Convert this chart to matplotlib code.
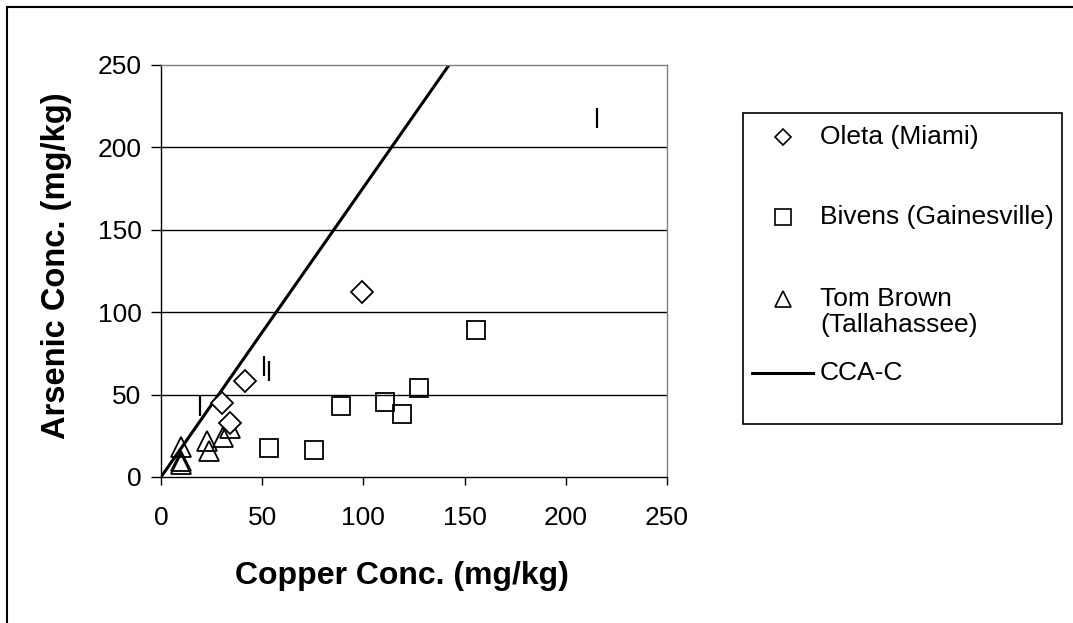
import matplotlib
matplotlib.use('Agg')
import matplotlib.pyplot as plt
from matplotlib.lines import Line2D
from matplotlib.patches import Rectangle

plt.rcParams['font.family'] = ['Liberation Sans', 'DejaVu Sans']

# Oleta (Miami)
oleta_cu = [30, 34, 41.5, 99.5]
oleta_as = [45, 33, 58, 112]
# Bivens (Gainesville)
bivens_cu = [53.4, 75.6, 88.8, 110.7, 119, 127.3, 155.6]
bivens_as = [17.6, 16.4, 43.3, 45.7, 38.4, 53.8, 89.2]
# Tom Brown (Tallahassee)
tom_cu = [10, 10, 10, 22.5, 23.5, 30.5, 34]
tom_as = [8, 10, 18, 22, 16, 24, 30]
# samples without a legend entry
other_cu = [19.3, 51.1, 53.4, 215.6]
other_as = [42.9, 67.1, 64.1, 218]
# CCA-C reference ratio line
cca_cu = [0, 142.3]
cca_as = [0, 250]

ticks = [0, 50, 100, 150, 200, 250]

W, H = 1073, 623
fig = plt.figure(figsize=(W / 100, H / 100), dpi=100)

def fx(px):
    return px / W

def fy(py):
    return 1 - py / H

ax = fig.add_axes([fx(161), fy(477), fx(667) - fx(161), fy(65) - fy(477)])

ax.hlines(ticks[1:-1], 0, 250, color='black', lw=1.0, zorder=1)

ax.plot(cca_cu, cca_as, color='black', lw=2.2, zorder=2, solid_capstyle='butt')
ax.plot(tom_cu, tom_as, ls='none', marker='^', ms=14.5, mfc='none', mec='black', mew=1.3, zorder=3)
ax.plot(bivens_cu, bivens_as, ls='none', marker='s', ms=13.5, mfc='none', mec='black', mew=1.3, zorder=3)
ax.plot(oleta_cu, oleta_as, ls='none', marker='D', ms=10.8, mfc='white', mec='black', mew=1.3, zorder=4)
ax.plot(other_cu, other_as, ls='none', marker='|', ms=15, mec='black', mew=1.6, zorder=3)

ax.set_xlim(0, 250)
ax.set_ylim(0, 250)
ax.set_xticks(ticks)
ax.set_yticks(ticks)
ax.tick_params(axis='x', direction='out', length=6, width=1, pad=15, labelsize=19)
ax.tick_params(axis='y', direction='out', length=7, width=1, pad=7, labelsize=19)
for side in ['top', 'right']:
    ax.spines[side].set_color('#808080')
    ax.spines[side].set_linewidth(1)
for side in ['left', 'bottom']:
    ax.spines[side].set_color('black')
    ax.spines[side].set_linewidth(1)

ax.set_xlabel('Copper Conc. (mg/kg)', fontsize=23, fontweight='bold')
ax.set_ylabel('Arsenic Conc. (mg/kg)', fontsize=23.5, fontweight='bold')
ax.xaxis.set_label_coords(0.476, -0.205)
ax.yaxis.set_label_coords(-0.175, 0.512)

# outer frame (left and top edges)
fig.add_artist(Line2D([fx(7), fx(7)], [0, fy(7)], color='black', lw=1.5))
fig.add_artist(Line2D([fx(7), 1], [fy(7), fy(7)], color='black', lw=1.5))

# legend box
fig.add_artist(Rectangle((fx(743), fy(424)), fx(1062) - fx(743), fy(113) - fy(424),
                         fill=False, ec='black', lw=1.2, transform=fig.transFigure))
mk = dict(ls='none', mfc='none', mec='black', mew=1.2, transform=fig.transFigure)
fig.add_artist(Line2D([fx(783)], [fy(137)], marker='D', ms=8.5, **mk))
fig.add_artist(Line2D([fx(783)], [fy(217)], marker='s', ms=11.5, **mk))
fig.add_artist(Line2D([fx(783)], [fy(299)], marker='^', ms=11, **mk))
fig.add_artist(Line2D([fx(752), fx(813)], [fy(373), fy(373)], color='black', lw=2.2,
                      transform=fig.transFigure))
txt = dict(fontsize=19, ha='left', va='center')
fig.text(fx(820), fy(137), 'Oleta (Miami)', **txt)
fig.text(fx(820), fy(217), 'Bivens (Gainesville)', **txt)
fig.text(fx(820), fy(312), 'Tom Brown\n(Tallahassee)', linespacing=1.13, **txt)
fig.text(fx(820), fy(373), 'CCA-C', **txt)

fig.savefig('out.png', dpi=100)
